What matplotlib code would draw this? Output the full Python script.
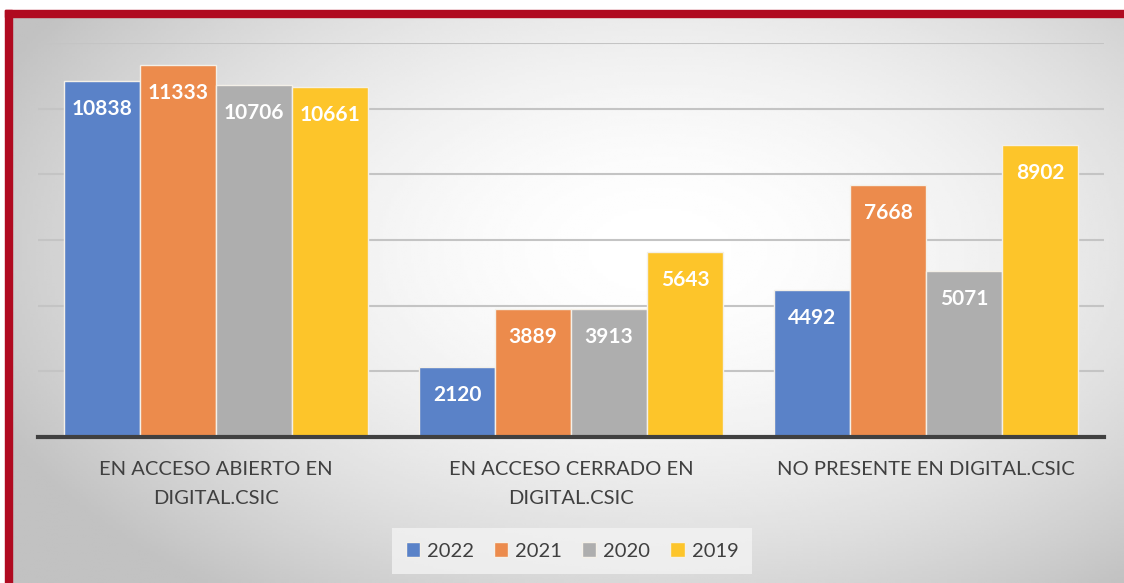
import numpy as np
import matplotlib.pyplot as plt
from matplotlib.patches import Patch, Rectangle

# datos del gráfico
categorias = ['EN ACCESO ABIERTO EN\nDIGITAL.CSIC',
              'EN ACCESO CERRADO EN\nDIGITAL.CSIC',
              'NO PRESENTE EN DIGITAL.CSIC']
anios = ['2022', '2021', '2020', '2019']
v2022 = [10838, 2120, 4492]
v2021 = [11333, 3889, 7668]
v2020 = [10706, 3913, 5071]
v2019 = [10661, 5643, 8902]
colores = ['#5a82c8', '#ec8b4c', '#aeaeae', '#fdc52a']

plt.rcParams['font.family'] = ['Lato', 'DejaVu Sans']

W, H = 1124, 583
fig = plt.figure(figsize=(W / 100, H / 100), dpi=100)
fig.patch.set_facecolor('white')

# fondo con degradado radial
bg = fig.add_axes([12 / W, 0, 1 - 12 / W, (H - 17) / H], zorder=0)
xx, yy = np.meshgrid(np.linspace(12, W, 400), np.linspace(17, H, 220))
r = np.sqrt(((xx - 660) / 560) ** 2 + ((yy - 250) / 330) ** 2)
val = 1 - 0.24 * np.clip(r / 1.3, 0, 1) ** 1.8
bg.imshow(val, cmap='gray', vmin=0, vmax=1, aspect='auto',
          extent=[0, 1, 0, 1], origin='upper', interpolation='bilinear')
bg.set_axis_off()

# marco rojo (arriba e izquierda)
rojo = '#b00a20'
fig.patches.append(Rectangle((5 / W, 0), 7 / W, (H - 10) / H,
                             transform=fig.transFigure, color=rojo, zorder=1))
fig.patches.append(Rectangle((5 / W, (H - 17) / H), 1 - 5 / W, 7 / H,
                             transform=fig.transFigure, color=rojo, zorder=1))

ax = fig.add_axes([38 / W, (H - 437) / H, (1104 - 38) / W, (437 - 43) / H], zorder=2)
ax.patch.set_alpha(0)

series = [v2022, v2021, v2020, v2019]
x = np.arange(len(categorias))
ancho = 0.214
for i, (vals, col) in enumerate(zip(series, colores)):
    pos = x + (i - 1.5) * ancho
    bars = ax.bar(pos, vals, ancho, color=col, edgecolor='#f4f0e8',
                  linewidth=1, zorder=3)
    for b, v in zip(bars, vals):
        ax.annotate(str(v), (b.get_x() + b.get_width() / 2, v),
                    xytext=(0, -28), textcoords='offset pixels',
                    ha='center', va='center', color='white',
                    fontsize=15, fontweight='bold', zorder=4)

ax.set_xlim(-0.5, 2.5)
ax.set_ylim(0, 12000)
ax.set_yticks(np.arange(2000, 12001, 2000))
ax.yaxis.grid(True, color='#c4c4c4', linewidth=1.5, zorder=1)
ax.tick_params(axis='y', left=False, labelleft=False)
ax.tick_params(axis='x', bottom=False, pad=14)
ax.set_xticks(x)
ax.set_xticklabels(categorias, fontsize=14.5, color='#404040',
                   va='top', linespacing=1.8)
for s in ['top', 'right', 'left']:
    ax.spines[s].set_visible(False)
ax.spines['bottom'].set_color('#404040')
ax.spines['bottom'].set_linewidth(3)
ax.spines['bottom'].set_zorder(5)

handles = [Patch(facecolor=c, edgecolor='#f4f0e8') for c in colores]
leg = fig.legend(handles, anios, loc='center',
                 bbox_to_anchor=(572 / W, 1 - 551 / H), ncol=4,
                 frameon=True, fontsize=14.5, handlelength=0.7,
                 handleheight=0.7, handletextpad=0.35, columnspacing=1.0,
                 borderpad=0.7, fancybox=False)
leg.get_frame().set_facecolor('#f3f3f3')
leg.get_frame().set_edgecolor('none')
leg.get_frame().set_alpha(0.8)
for t in leg.get_texts():
    t.set_color('#404040')

fig.savefig('out.png', dpi=100)
